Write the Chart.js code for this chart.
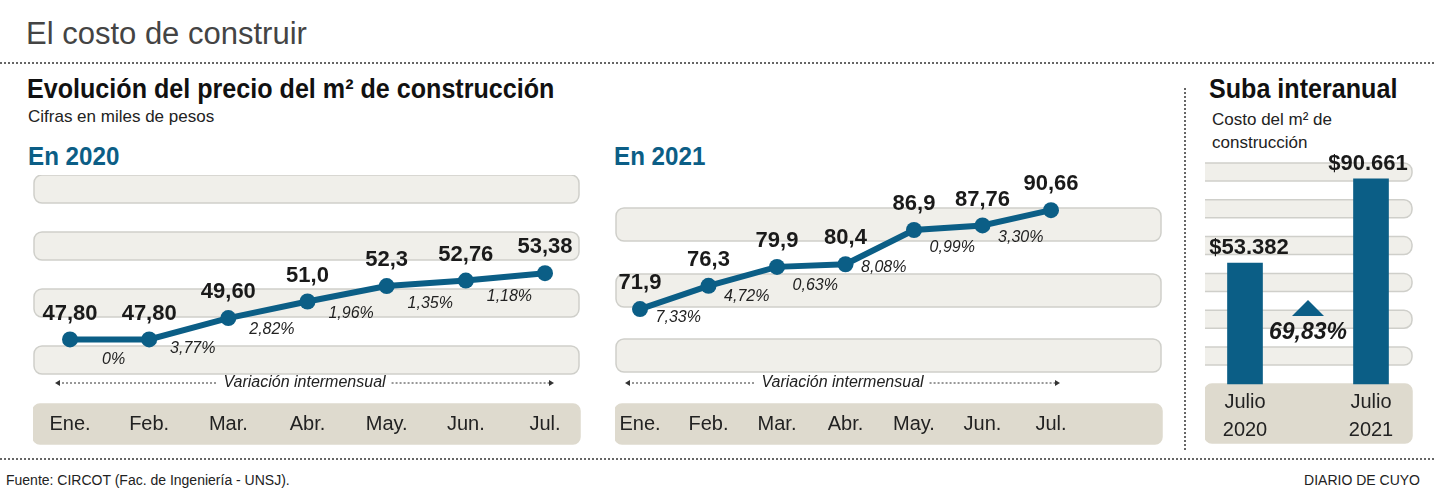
<!DOCTYPE html>
<html><head><meta charset="utf-8">
<script src="https://cdn.jsdelivr.net/npm/chart.js@4.4.1/dist/chart.umd.min.js"></script>
<style>
body{margin:0;width:1434px;height:496px;background:#fff;font-family:"Liberation Sans",Arial,sans-serif;position:relative;overflow:hidden}
.t{position:absolute;white-space:nowrap}
.nar{font-weight:bold;transform-origin:left center;transform:scaleX(0.93)}
canvas{position:absolute}
.dot{position:absolute;border-top:2px dotted #666}
</style></head><body>
<div class="t" style="left:26px;top:16px;font-size:31px;color:#444">El costo de construir</div>
<div class="dot" style="left:0;top:62px;width:1434px"></div>
<div class="t nar" style="left:27px;top:74px;font-size:27px;color:#111">Evolución del precio del m² de construcción</div>
<div class="t" style="left:28px;top:107px;font-size:17px;color:#222">Cifras en miles de pesos</div>
<div class="t nar" style="left:28px;top:141px;font-size:26px;color:#0b5e86">En 2020</div>
<div class="t nar" style="left:614px;top:141px;font-size:26px;color:#0b5e86">En 2021</div>
<div style="position:absolute;left:1184px;top:88px;height:362px;border-left:2px dotted #666"></div>
<div class="t nar" style="left:1209px;top:74px;font-size:27px;color:#111">Suba interanual</div>
<div class="t" style="left:1212px;top:108px;font-size:17px;color:#222;line-height:23px">Costo del m² de<br>construcción</div>
<div class="dot" style="left:0;top:458px;width:1434px"></div>
<div class="t" style="left:6px;top:472px;font-size:14px;color:#222">Fuente: CIRCOT (Fac. de Ingeniería - UNSJ).</div>
<div class="t" style="right:14px;top:472px;font-size:14px;color:#222">DIARIO DE CUYO</div>
<canvas id="c1" style="left:33px;top:175px" width="548" height="270"></canvas>
<canvas id="c2" style="left:615px;top:175px" width="548" height="270"></canvas>
<canvas id="c3" style="left:1190px;top:140px" width="240" height="305"></canvas>
<script>
const meses = ['Ene.', 'Feb.', 'Mar.', 'Abr.', 'May.', 'Jun.', 'Jul.'];
const valores2020 = [47.80, 47.80, 49.60, 51.0, 52.3, 52.76, 53.38];
const etiquetas2020 = ['47,80', '47,80', '49,60', '51,0', '52,3', '52,76', '53,38'];
const variacion2020 = ['0%', '3,77%', '2,82%', '1,96%', '1,35%', '1,18%'];
const valores2021 = [71.9, 76.3, 79.9, 80.4, 86.9, 87.76, 90.66];
const etiquetas2021 = ['71,9', '76,3', '79,9', '80,4', '86,9', '87,76', '90,66'];
const variacion2021 = ['7,33%', '4,72%', '0,63%', '8,08%', '0,99%', '3,30%'];
const julios = ['Julio 2020', 'Julio 2021'];
const julioValores = [53.382, 90.661];
const julioEtiquetas = ['$53.382', '$90.661'];
const suba = '69,83%';

const azul = '#0b5e86';
const F = '"Liberation Sans", Arial, sans-serif';

function rr(c, x, y, w, h, r) {
  c.beginPath(); c.roundRect(x, y, w, h, r); c.fill(); c.stroke();
}

// bands: [top, bottom] in canvas px
function lineChart(id, valores, etiquetas, variacion, min, max, bands, padL, padR) {
  const deco = {
    id: 'deco',
    beforeDatasetsDraw(ch) {
      const c = ch.ctx, W = ch.width;
      c.save();
      c.fillStyle = '#f0efea'; c.strokeStyle = '#cfcfca'; c.lineWidth = 1.5;
      bands.forEach(b => rr(c, 1, b[0], W - 3, b[1] - b[0], 8));
      c.fillStyle = '#dedace'; c.strokeStyle = '#dedace';
      rr(c, 0, 229, W - 1, 40, 7);
      const xs = ch.scales.x;
      const x0 = xs.getPixelForValue(0) - 12, x1 = xs.getPixelForValue(6) + 6;
      const mid = (x0 + x1) / 2;
      c.font = 'italic 16px ' + F; c.fillStyle = '#222';
      c.textAlign = 'center'; c.textBaseline = 'middle';
      c.fillText('Variación intermensual', mid, 208);
      const tw = c.measureText('Variación intermensual').width / 2 + 6;
      c.strokeStyle = '#333'; c.lineWidth = 1; c.setLineDash([2, 2]);
      c.beginPath(); c.moveTo(x0, 208); c.lineTo(mid - tw, 208);
      c.moveTo(mid + tw, 208); c.lineTo(x1, 208); c.stroke();
      c.setLineDash([]); c.fillStyle = '#333';
      c.beginPath(); c.moveTo(x0 - 3, 208); c.lineTo(x0 + 2, 205); c.lineTo(x0 + 2, 211); c.fill();
      c.beginPath(); c.moveTo(x1 + 3, 208); c.lineTo(x1 - 2, 205); c.lineTo(x1 - 2, 211); c.fill();
      c.font = '20px ' + F; c.fillStyle = '#222';
      meses.forEach((m, i) => c.fillText(m, xs.getPixelForValue(i), 249));
      c.restore();
    },
    afterDatasetsDraw(ch) {
      const c = ch.ctx, pts = ch.getDatasetMeta(0).data;
      c.save(); c.textAlign = 'center'; c.textBaseline = 'middle';
      c.font = 'bold 22px ' + F; c.fillStyle = '#1a1a1a';
      pts.forEach((p, i) => c.fillText(etiquetas[i], p.x, p.y - 26));
      c.font = 'italic 16px ' + F; c.fillStyle = '#222';
      variacion.forEach((v, i) => {
        const a = pts[i], b = pts[i + 1];
        c.fillText(v, (a.x + b.x) / 2 + 4, (a.y + b.y) / 2 + 20);
      });
      c.restore();
    }
  };
  new Chart(document.getElementById(id), {
    type: 'line',
    data: { labels: meses, datasets: [{
      data: valores, borderColor: azul, borderWidth: 6,
      pointRadius: 8, pointBackgroundColor: azul, pointBorderWidth: 0, tension: 0
    }] },
    options: {
      responsive: false, animation: false,
      layout: { padding: { left: padL, right: padR, top: 0, bottom: 71 } },
      scales: {
        x: { display: false, offset: false },
        y: { display: false, min: min, max: max }
      },
      plugins: { legend: { display: false }, tooltip: { enabled: false } }
    },
    plugins: [deco]
  });
}

lineChart('c1', valores2020, etiquetas2020, variacion2020, 44.89, 60.98,
  [[0, 28], [57, 85], [114, 142], [171, 199]], 37, 36);
lineChart('c2', valores2021, etiquetas2021, variacion2021, 59.58, 95.81,
  [[33, 66], [99, 132], [164, 197]], 25, 112);

// canvas x offset 15: panel spans 15..222
const deco3 = {
  id: 'deco3',
  beforeDatasetsDraw(ch) {
    const c = ch.ctx;
    c.save();
    c.beginPath(); c.rect(15, 0, 225, 305); c.clip();
    c.fillStyle = '#f0efea'; c.strokeStyle = '#cfcfca'; c.lineWidth = 1.5;
    for (let i = 0; i < 6; i++) rr(c, 5, 23 + i * 36.8, 217, 18, 8);
    c.fillStyle = '#dedace'; c.strokeStyle = '#dedace';
    rr(c, 15, 244, 207, 59, 7);
    c.restore();
  },
  afterDatasetsDraw(ch) {
    const c = ch.ctx, bars = ch.getDatasetMeta(0).data;
    c.save(); c.textAlign = 'center'; c.textBaseline = 'middle';
    c.font = 'bold 22px ' + F; c.fillStyle = '#1a1a1a';
    bars.forEach((b, i) => c.fillText(julioEtiquetas[i], b.x + (i === 0 ? 4 : -3), b.y - 15));
    c.font = '20px ' + F; c.fillStyle = '#222';
    bars.forEach((b, i) => {
      const p = julios[i].split(' ');
      c.fillText(p[0], b.x, 262); c.fillText(p[1], b.x, 290);
    });
    const mx = (bars[0].x + bars[1].x) / 2;
    c.fillStyle = azul;
    c.beginPath(); c.moveTo(mx, 160); c.lineTo(mx + 16, 176); c.lineTo(mx - 16, 176); c.fill();
    c.font = 'bold italic 23px ' + F; c.fillStyle = '#1a1a1a';
    c.fillText(suba, mx, 193);
    c.restore();
  }
};
new Chart(document.getElementById('c3'), {
  type: 'bar',
  data: { labels: julios, datasets: [{
    data: julioValores, backgroundColor: azul, barThickness: 35,
    categoryPercentage: 1, barPercentage: 1, clip: false
  }] },
  options: {
    responsive: false, animation: false,
    layout: { padding: { left: 55, right: 59, top: 23, bottom: 61 } },
    scales: {
      x: { display: false, offset: false },
      y: { display: false, min: 0, max: 97.6 }
    },
    plugins: { legend: { display: false }, tooltip: { enabled: false } }
  },
  plugins: [deco3]
});
</script>
</body></html>
